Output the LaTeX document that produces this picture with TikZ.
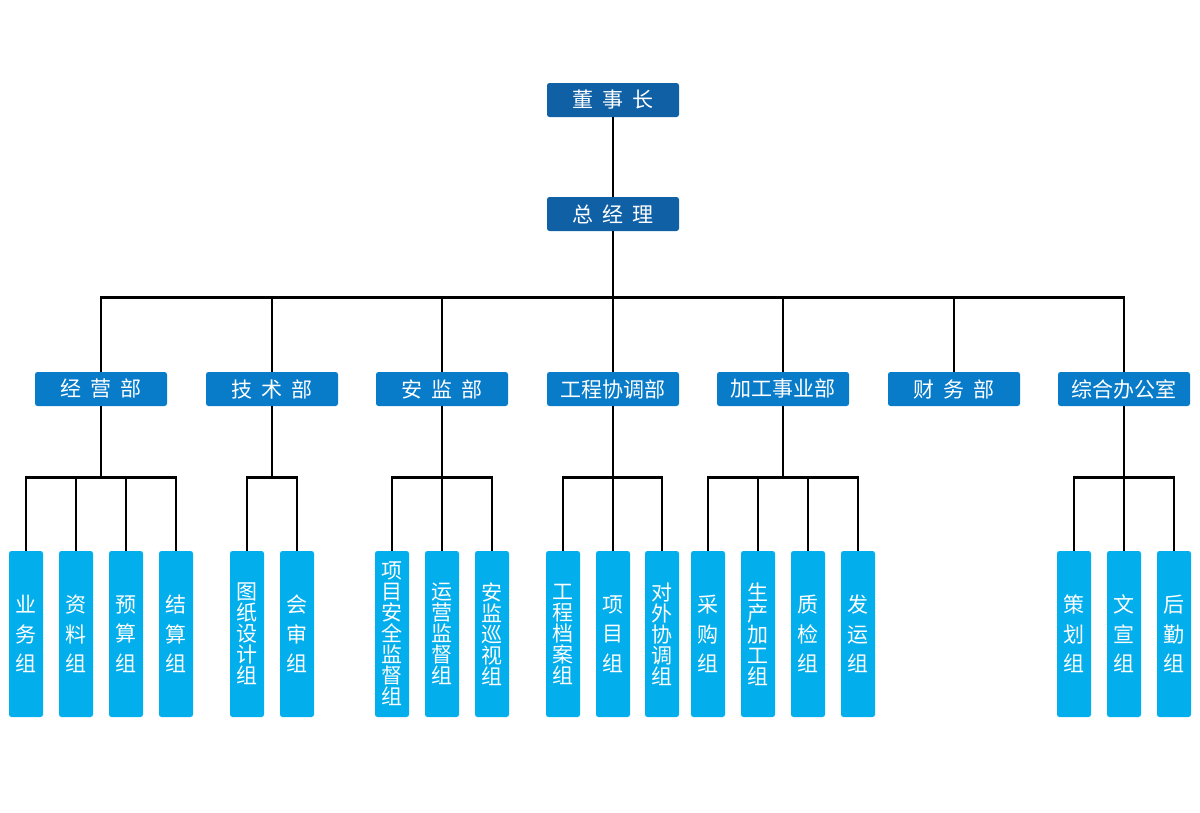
\documentclass[tikz,border=0pt]{standalone}
\usepackage{fontspec}
\setmainfont{Noto Sans CJK SC}
\definecolor{topblue}{RGB}{16,96,166}
\definecolor{midblue}{RGB}{8,123,201}
\definecolor{leafblue}{RGB}{2,174,236}
\newcommand\gap{\hspace{9pt}}
\tikzset{
  box/.style={rounded corners=2.5pt, inner sep=0pt, text=white, font=\fontsize{21}{24}\selectfont},
  topbox/.style={box, fill=topblue, minimum width=132pt, minimum height=34pt},
  midbox/.style={box, fill=midblue, minimum width=132pt, minimum height=34pt},
  leafbox/.style={box, fill=leafblue, minimum width=34pt, minimum height=166pt, align=center},
  leafs/.style={leafbox, font=\fontsize{21}{29.5}\selectfont},
  leafl/.style={leafbox, font=\fontsize{21}{21}\selectfont},
  conn/.style={draw=black, line width=2.7pt}
}
\begin{document}
\begin{tikzpicture}[x=1pt,y=-1pt]
\useasboundingbox (0,0) rectangle (1200,812);
% top
\node[topbox] (ch) at (613,100) {董\gap 事\gap 长};
\node[topbox] (gm) at (613,214) {总\gap 经\gap 理};
% departments
\node[midbox] (d1) at (101,389) {经\gap 营\gap 部};
\node[midbox] (d2) at (272,389) {技\gap 术\gap 部};
\node[midbox] (d3) at (442,389) {安\gap 监\gap 部};
\node[midbox] (d4) at (613,389) {工程协调部};
\node[midbox] (d5) at (783,389) {加工事业部};
\node[midbox] (d6) at (954,389) {财\gap 务\gap 部};
\node[midbox] (d7) at (1124,389) {综合办公室};
% leaves
\node[leafs] (a1) at (26,634) {业\\务\\组};
\node[leafs] (a2) at (76,634) {资\\料\\组};
\node[leafs] (a3) at (126,634) {预\\算\\组};
\node[leafs] (a4) at (176,634) {结\\算\\组};
\node[leafl] (b1) at (247,634) {图\\纸\\设\\计\\组};
\node[leafs] (b2) at (297,634) {会\\审\\组};
\node[leafl] (c1) at (392,634) {项\\目\\安\\全\\监\\督\\组};
\node[leafl] (c2) at (442,634) {运\\营\\监\\督\\组};
\node[leafl] (c3) at (492,634) {安\\监\\巡\\视\\组};
\node[leafl] (e1) at (563,634) {工\\程\\档\\案\\组};
\node[leafs] (e2) at (613,634) {项\\目\\组};
\node[leafl] (e3) at (662,634) {对\\外\\协\\调\\组};
\node[leafs] (f1) at (708,634) {采\\购\\组};
\node[leafl] (f2) at (758,634) {生\\产\\加\\工\\组};
\node[leafs] (f3) at (808,634) {质\\检\\组};
\node[leafs] (f4) at (858,634) {发\\运\\组};
\node[leafs] (g1) at (1074,634) {策\\划\\组};
\node[leafs] (g2) at (1124,634) {文\\宣\\组};
\node[leafs] (g3) at (1174,634) {后\\勤\\组};
% connectors
\draw[conn] (ch.south) -- (gm.north);
\foreach \d in {d1,d2,d3,d4,d5,d6,d7}
  \draw[conn] (gm.south) -- ++(0,66) -| (\d.north);
\foreach \d/\l in {d1/a1,d1/a2,d1/a3,d1/a4,d2/b1,d2/b2,d3/c1,d3/c2,d3/c3,d4/e1,d4/e2,d4/e3,d5/f1,d5/f2,d5/f3,d5/f4,d7/g1,d7/g2,d7/g3}
  \draw[conn] (\d.south) -- ++(0,71) -| (\l.north);
\end{tikzpicture}
\end{document}
